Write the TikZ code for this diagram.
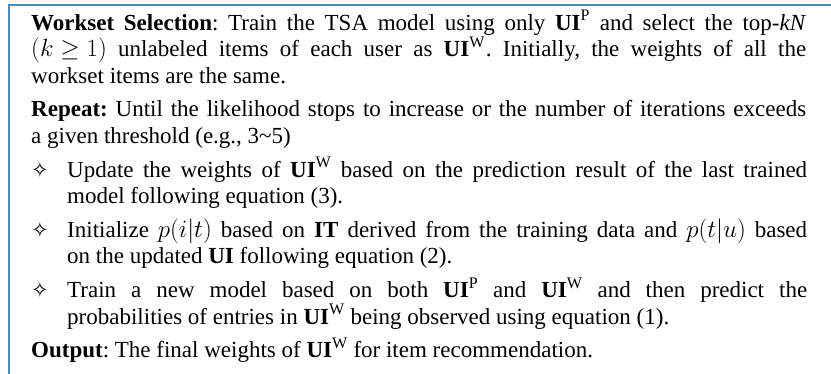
\documentclass[tikz,border=0pt]{standalone}
\usepackage{fontspec}
\setmainfont{Liberation Serif}
\newfontfamily\symfont{DejaVu Sans}
\definecolor{frameblue}{HTML}{4A8DB7}
\hyphenpenalty=10000
\exhyphenpenalty=10000
\frenchspacing
\begin{document}
\begin{tikzpicture}[x=1pt,y=1pt,
  txt/.style={anchor=base west,inner sep=0pt,align=justify,
    font=\fontsize{23}{26.6}\selectfont},
  para/.style={txt,text width=775pt},
  item/.style={txt,text width=740pt},
  star/.style={anchor=base west,inner sep=0pt,font=\fontsize{21}{24}\selectfont\symfont}]
\useasboundingbox (0,0) rectangle (831,-373);
\draw[frameblue,line width=2pt] (9,-400) -- (9,-5) -- (860,-5);
\node[para] (ws) at (31,-30) {\textbf{Workset Selection}: Train the TSA model using only \textbf{UI}\textsuperscript{P} and select the top-\textit{kN}\linebreak \mbox{$(k \geq 1)$} unlabeled items of each user as \textbf{UI}\textsuperscript{W}\kern1pt. Initially, the weights of all the\linebreak workset items are the same.};
\node[para] (rep) at (31,-116.8) {\textbf{Repeat:} Until the likelihood stops to increase or the number of iterations exceeds\linebreak a given threshold (e.g., 3\textasciitilde5)};
\node[star] (s1) at (31,-177) {✧};
\node[item] (b1) at (67,-177) {Update the weights of \textbf{UI}\textsuperscript{W} based on the prediction result of the last trained\linebreak model following equation (3).};
\node[star] (s2) at (31,-237.2) {✧};
\node[item] (b2) at (67,-237.2) {Initialize \mbox{$p(i|t)$} based on \textbf{IT} derived from the training data and \mbox{$p(t|u)$} based\linebreak on the updated \textbf{UI} following equation (2).};
\node[star] (s3) at (31,-297.4) {✧};
\node[item] (b3) at (67,-297.4) {Train a new model based on both \textbf{UI}\textsuperscript{P} and \textbf{UI}\textsuperscript{W} and then predict the\linebreak probabilities of entries in \textbf{UI}\textsuperscript{W} being observed using equation (1).};
\node[para] (out) at (31,-357.6) {\textbf{Output}: The final weights of \textbf{UI}\textsuperscript{W} for item recommendation.};
\end{tikzpicture}
\end{document}
